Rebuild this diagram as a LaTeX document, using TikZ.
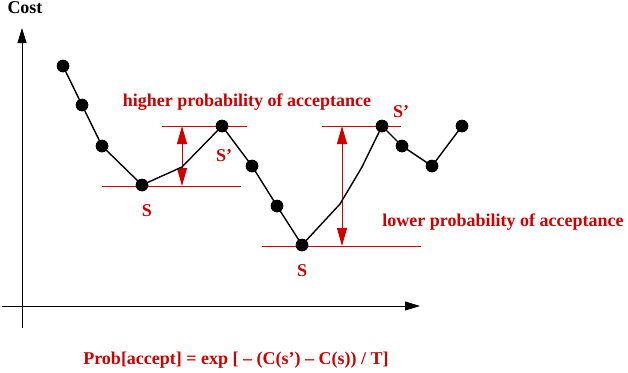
\documentclass[tikz,border=0pt]{standalone}
\usepackage{fontspec}
\setmainfont{Liberation Serif}
\usetikzlibrary{arrows.meta}
\definecolor{figred}{RGB}{208,0,0}
\begin{document}
\begin{tikzpicture}[x=1pt,y=-1pt,
  dot/.style={circle,fill=black,inner sep=0pt,minimum size=12.5pt},
  curve/.style={line width=1.4pt,black},
  axis/.style={line width=0.9pt,-{Triangle[length=15pt,width=9pt]}},
  level/.style={figred,line width=1pt},
  gap/.style={figred,line width=1pt,{Triangle[length=18pt,width=10pt]}-{Triangle[length=18pt,width=10pt]}},
  lbl/.style={font=\fontsize{18}{20}\selectfont\bfseries,anchor=base,inner sep=0pt},
  redlbl/.style={lbl,text=figred}]
\useasboundingbox (0,0) rectangle (628,372);

% axes
\coordinate (yb) at (22,328);
\coordinate (yt) at (22,28);
\coordinate (xl) at (2,306);
\coordinate (xr) at (420,306);
\draw[axis] (yb) -- (yt);
\draw[axis] (xl) -- (xr);
\node[lbl,text=black] (cost) at (25,13.5) {Cost};

% red level lines
\coordinate (la1) at (162,126); \coordinate (la2) at (247,126);
\coordinate (lb1) at (102,186); \coordinate (lb2) at (241,186);
\coordinate (lc1) at (322,126); \coordinate (lc2) at (401,126);
\coordinate (ld1) at (262,246); \coordinate (ld2) at (421,246);
\draw[level] (la1) -- (la2);
\draw[level] (lb1) -- (lb2);
\draw[level] (lc1) -- (lc2);
\draw[level] (ld1) -- (ld2);
\coordinate (g1t) at (182,126); \coordinate (g1b) at (182,186);
\coordinate (g2t) at (342,126); \coordinate (g2b) at (342,246);
\draw[gap] (g1t) -- (g1b);
\draw[gap] (g2t) -- (g2b);

% cost curve
\node[dot] (p1) at (63,66) {};
\node[dot] (p2) at (82,105) {};
\node[dot] (p3) at (102,146) {};
\node[dot] (p4) at (142,185) {};
\node[dot] (p5) at (222,126) {};
\node[dot] (p6) at (252,166) {};
\node[dot] (p7) at (277,206) {};
\node[dot] (p8) at (302,245) {};
\node[dot] (p9) at (382,126) {};
\node[dot] (p10) at (402,146) {};
\node[dot] (p11) at (432,166) {};
\node[dot] (p12) at (462,126) {};
\coordinate (b1) at (182,167);
\coordinate (b2) at (340,204);
\coordinate (b3) at (362,167);
\draw[curve] (p1.center) -- (p2.center) -- (p3.center) -- (p4.center) -- (b1) -- (p5.center)
  -- (p6.center) -- (p7.center) -- (p8.center) -- (b2) -- (b3) -- (p9.center)
  -- (p10.center) -- (p11.center) -- (p12.center);
\foreach \n in {p1,p2,p3,p4,p5,p6,p7,p8,p9,p10,p11,p12}
  \fill (\n) circle (6.25pt);

% labels
\node[redlbl] (hi) at (247,106) {higher probability of acceptance};
\node[redlbl] (lo) at (503,226) {lower probability of acceptance};
\node[redlbl] (s1) at (147,216) {S};
\node[redlbl] (s1p) at (224,161) {S’};
\node[redlbl] (s2) at (302,276) {S};
\node[redlbl] (s2p) at (401,117) {S’};
\node[redlbl] (formula) at (236,364) {Prob[accept] = exp [ – (C(s’) – C(s)) / T]};
\end{tikzpicture}
\end{document}
